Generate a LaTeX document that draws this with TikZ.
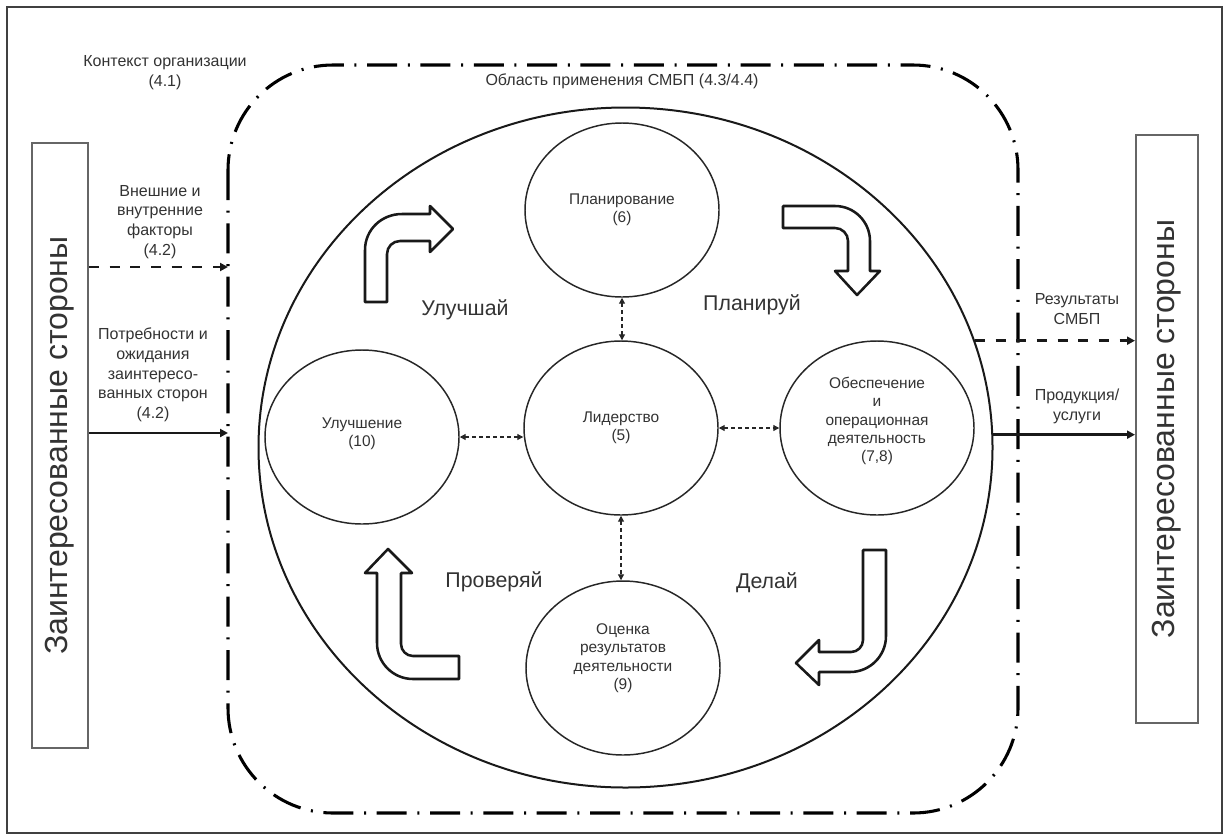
\documentclass[tikz,border=0pt]{standalone}
\usepackage{fontspec}
\setmainfont{Liberation Sans}
\usetikzlibrary{shapes.geometric,arrows.meta}
\begin{document}
\begin{tikzpicture}[x=0.75pt,y=-0.75pt,
  txt/.style={align=center, text=black!80, font=\fontsize{12}{14.8}\selectfont, inner sep=0pt},
  ctxt/.style={align=center, text=black!80, font=\fontsize{11.6}{13.8}\selectfont, inner sep=0pt},
  bigl/.style={text=black!80, font=\fontsize{16}{19}\selectfont, inner sep=0pt},
  circ/.style={draw=black!85, ellipse, line width=1.1pt, minimum width=145.5pt, minimum height=130.5pt, inner sep=0pt},
  bent/.style={draw=black!90, line width=1.9pt, line join=round, fill=white},
  dda/.style={draw=black!85, dash pattern=on 3pt off 2.2pt, line width=0.9pt, {Triangle[length=4.5pt,width=4.5pt]}-{Triangle[length=4.5pt,width=4.5pt]}},
  flowd/.style={draw=black!90, line width=2.2pt, dash pattern=on 7.5pt off 8pt, -{Triangle[length=6pt,width=6pt]}},
  flows/.style={draw=black!90, line width=2.2pt, -{Triangle[length=6pt,width=6pt]}},
  sbox/.style={draw=black!60, line width=1.5pt, inner sep=0pt, rotate=90, text=black!80, font=\fontsize{24}{28}\selectfont}
]
\useasboundingbox (0,0) rectangle (1226,836);
\fill[white] (0,0) rectangle (1226,836);
% outer frame
\draw[line width=1.5pt, black!75] (7,7) rectangle (1222,833);
% scope boundary
\draw[line width=2.3pt, dash pattern=on 22.5pt off 8pt on 1.5pt off 8pt, rounded corners=78.75pt] (228,65) rectangle (1018,813);
% side boxes
\node[sbox, minimum width=453.75pt, minimum height=42pt] (lbox) at (60,445.5) {Заинтересованные стороны};
\node[sbox, minimum width=441pt, minimum height=46.5pt] (rbox) at (1167,429) {Заинтересованные стороны};
% big ellipse
\node[draw=black!90, ellipse, line width=1.5pt, minimum width=550.5pt, minimum height=510pt, inner sep=0pt] (bigc) at (625.5,447.5) {};
% circles
\node[circ] (plan) at (622,210) {};
\node[circ] (lead) at (621,428) {};
\node[circ] (impr) at (362,437) {};
\node[circ] (oper) at (877,428) {};
\node[circ] (eval) at (623,668) {};
\node[ctxt] (tplan) at (622,210) {Планирование\\(6)};
\node[ctxt] (tlead) at (621,428) {Лидерство\\(5)};
\node[ctxt] (timpr) at (362,434) {Улучшение\\(10)};
\node[ctxt] (toper) at (877,421) {Обеспечение\\и\\операционная\\деятельность\\(7,8)};
\node[ctxt] (teval) at (623,658) {Оценка\\результатов\\деятельности\\(9)};
% dotted connectors
\draw[dda] (plan.south) -- (plan.south |- lead.north);
\draw[dda] (impr.east) -- (impr.east -| lead.west);
\draw[dda] (lead.east) -- (oper.west);
\draw[dda] (lead.south) -- (lead.south |- eval.north);
% outside texts
\node[txt] (ctx) at (165,73) {Контекст организации\\(4.1)};
\node[txt] (scp) at (622,81) {Область применения СМБП (4.3/4.4)};
\node[txt] (ext) at (160,222) {Внешние и\\внутренние\\факторы\\(4.2)};
\node[txt] (need) at (153,375) {Потребности и\\ожидания\\заинтересо-\\ванных сторон\\(4.2)};
\node[txt] (res) at (1077,309) {Результаты\\СМБП};
\node[txt] (prod) at (1077,406) {Продукция/\\услуги};
% input / output arrows
\coordinate (in1) at (228,267);
\coordinate (in2) at (228,433);
\draw[flowd] (lbox.south |- in1) -- (in1);
\draw[flows] (lbox.south |- in2) -- (in2);
\draw[flowd] (bigc.17.7) -- (rbox.north |- bigc.17.7);
\draw[flows] (bigc.2.4) -- (rbox.north |- bigc.2.4);
% PDCA labels
\node[bigl] (limp) at (465,310) {Улучшай};
\node[bigl] (lpla) at (752,305) {Планируй};
\node[bigl] (lchk) at (494,582) {Проверяй};
\node[bigl] (ldo) at (767,583) {Делай};
% bent block arrows
\draw[bent] (365,302) -- (365,250) .. controls (365,229.6) and (381.6,214) .. (402,214)
  -- (430,214) -- (430,206) -- (453,229) -- (430,252) -- (430,241) -- (400,241)
  .. controls (392.8,241) and (387,246.8) .. (387,254) -- (387,302) -- cycle;
\draw[bent] (783,206) -- (835,206) .. controls (854.3,206) and (870,221.7) .. (870,241)
  -- (870,271) -- (880,271) -- (857,295) -- (835,271) -- (848,271) -- (848,241)
  .. controls (848,233.8) and (842.2,228) .. (835,228) -- (783,228) -- cycle;
\draw[bent] (863,550) -- (886,550) -- (886,636) .. controls (886,655.9) and (869.9,672) .. (850,672)
  -- (819,672) -- (819,685) -- (796,663) -- (819,640) -- (819,652) -- (851,652)
  .. controls (857.6,652) and (863,646.6) .. (863,640) -- cycle;
\draw[bent] (459,679) -- (413,679) .. controls (393.1,679) and (377,662.9) .. (377,643)
  -- (377,573) -- (365,573) -- (388,549) -- (412,573) -- (401,573) -- (401,644)
  .. controls (401,650.6) and (406.4,656) .. (413,656) -- (459,656) -- cycle;
\end{tikzpicture}
\end{document}
